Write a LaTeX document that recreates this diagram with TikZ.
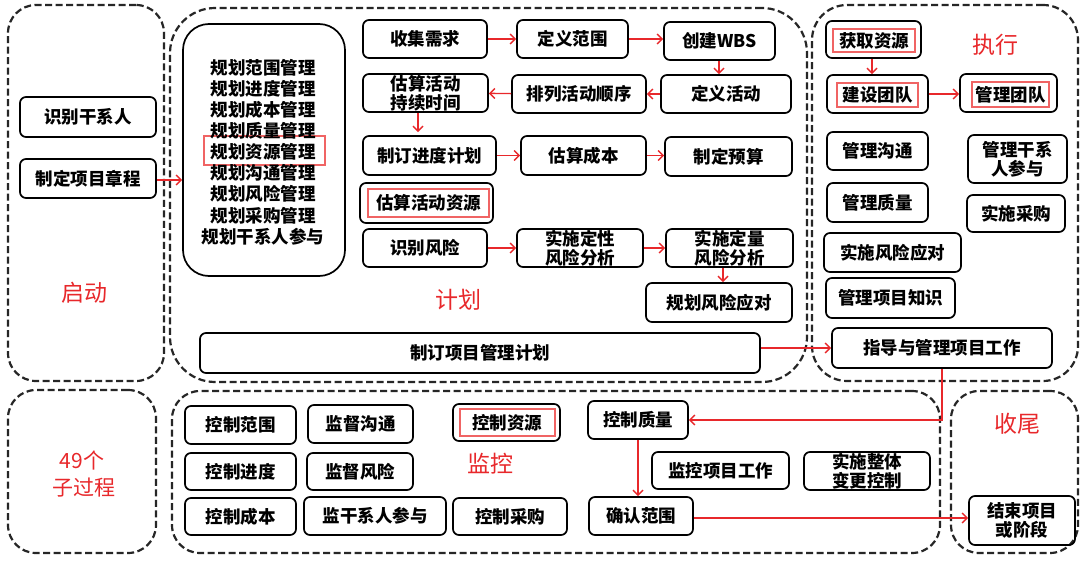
\documentclass[tikz,border=0pt]{standalone}
\usepackage{fontspec}
\newfontfamily\cjk{Noto Sans CJK SC}
\usetikzlibrary{arrows.meta}
\definecolor{hired}{HTML}{E8282B}
\definecolor{hiframe}{HTML}{F06464}

\begin{document}
\begin{tikzpicture}[x=1pt, y=-1pt, >={Straight Barb[length=5pt,width=10pt]}]
		\tikzstyle{region}=[draw=black!85, line width=2.2pt, dash pattern=on 7pt off 3.5pt, inner sep=0pt]
		\tikzstyle{proc}=[draw=black, line width=1.7pt, rounded corners=6pt, inner sep=0pt, align=center, font=\cjk\bfseries\fontsize{17.5}{19}\selectfont]
		\tikzstyle{hibox}=[draw=hiframe, line width=2pt, inner sep=0pt, font=\cjk\bfseries\fontsize{17.5}{19}\selectfont]
		\tikzstyle{phase}=[text=hired, font=\cjk\fontsize{23}{26}\selectfont]
		\tikzstyle{connect}=[->, draw=hired, line width=1.4pt]
		\useasboundingbox[fill=white] (0,0) rectangle (1083,561);
		% phase frames
		\node[region, rounded corners=28pt, minimum width=156, minimum height=376] (qidong) at (86,193) {};
		\node[region, rounded corners=45pt, minimum width=637, minimum height=374] (jihua) at (488.5,195) {};
		\node[region, rounded corners=35pt, minimum width=266, minimum height=376] (zhixing) at (945,193) {};
		\node[region, rounded corners=28pt, minimum width=148, minimum height=163] (guocheng) at (82,471.5) {};
		\node[region, rounded corners=28pt, minimum width=768, minimum height=162] (jiankong) at (556,472) {};
		\node[region, rounded corners=28pt, minimum width=127, minimum height=162] (shouwei) at (1014.5,472) {};
		% initiating
		\node[proc, minimum width=136, minimum height=40] (sbgxr) at (88,117) {识别干系人};
		\node[proc, minimum width=136, minimum height=39] (zdzc) at (88,178.5) {制定项目章程};
		\node[phase] (qdlabel) at (84,293) {启动};
		% planning
		\node[proc, rounded corners=26pt, minimum width=162, minimum height=252] (gh) at (264,150) {};
		\node[hibox, minimum width=121, minimum height=29] (ghzy) at (264.5,150.5) {};
		\node[align=center, font=\cjk\bfseries\fontsize{17.5}{21.1}\selectfont] (ghlist) at (263,152) {规划范围管理\\规划进度管理\\规划成本管理\\规划质量管理\\规划资源管理\\规划沟通管理\\规划风险管理\\规划采购管理\\规划干系人参与};
		\node[proc, minimum width=124, minimum height=38] (sjxq) at (425,39) {收集需求};
		\node[proc, minimum width=111, minimum height=38] (dyfw) at (572.5,39) {定义范围};
		\node[proc, minimum width=111, minimum height=38] (wbs) at (719.5,41) {创建WBS};
		\node[proc, minimum width=125, minimum height=38] (gshd) at (425.5,93) {估算活动\\持续时间};
		\node[proc, minimum width=134, minimum height=38] (plhd) at (579,94) {排列活动顺序};
		\node[proc, minimum width=130, minimum height=38] (dyhd) at (726,94) {定义活动};
		\node[proc, minimum width=133, minimum height=39] (zdjd) at (429.5,155.5) {制订进度计划};
		\node[proc, minimum width=125, minimum height=39] (gscb) at (583.5,155.5) {估算成本};
		\node[proc, minimum width=127, minimum height=39] (zdys) at (728.5,156.5) {制定预算};
		\node[proc, minimum width=133, minimum height=40] (gszy) at (426.5,203) {};
		\node[hibox, minimum width=121, minimum height=28] (gszymark) at (428.5,203) {估算活动资源};
		\node[proc, minimum width=124, minimum height=38] (sbfx) at (425,248) {识别风险};
		\node[proc, minimum width=126, minimum height=38] (dxfx) at (580,248) {实施定性\\风险分析};
		\node[proc, minimum width=127, minimum height=38] (dlfx) at (729.5,248) {实施定量\\风险分析};
		\node[proc, minimum width=146, minimum height=39] (ghfx) at (719,302.5) {规划风险应对};
		\node[phase] (jhlabel) at (458,300) {计划};
		\node[proc, minimum width=560, minimum height=40] (zdjh) at (480,353) {制订项目管理计划};
		% executing
		\node[proc, minimum width=95, minimum height=37] (hqzy) at (873.5,39.5) {};
		\node[hibox, minimum width=82, minimum height=23] (hqzymark) at (874,40.5) {获取资源};
		\node[phase] (zxlabel) at (995,45) {执行};
		\node[proc, minimum width=101, minimum height=38] (jstd) at (877.5,94) {};
		\node[hibox, minimum width=81, minimum height=24] (jstdmark) at (877.5,95) {建设团队};
		\node[proc, minimum width=97, minimum height=38] (gltd) at (1008.5,93) {};
		\node[hibox, minimum width=77, minimum height=25] (gltdmark) at (1010.5,94.5) {管理团队};
		\node[proc, minimum width=101, minimum height=38] (glgt) at (877.5,151) {管理沟通};
		\node[proc, minimum width=99, minimum height=48] (glgxr) at (1017.5,159) {管理干系\\人参与};
		\node[proc, minimum width=101, minimum height=39] (glzl) at (877.5,202.5) {管理质量};
		\node[proc, minimum width=98, minimum height=37] (sscg) at (1016,213.5) {实施采购};
		\node[proc, minimum width=137, minimum height=39] (ssfx) at (892.5,252.5) {实施风险应对};
		\node[proc, minimum width=129, minimum height=40] (glzs) at (890.5,298) {管理项目知识};
		\node[proc, minimum width=220, minimum height=40] (zdgl) at (942,348) {指导与管理项目工作};
		% sub-process count
		\node[phase, font=\cjk\fontsize{21}{24}\selectfont] (count) at (82,460) {49个};
		\node[phase, font=\cjk\fontsize{21}{24}\selectfont] (zgc) at (84,488) {子过程};
		% monitoring
		\node[proc, minimum width=111, minimum height=38] (kzfw) at (240.5,425) {控制范围};
		\node[proc, minimum width=105, minimum height=38] (jdgt) at (360.5,424) {监督沟通};
		\node[proc, minimum width=107, minimum height=37] (kzzy) at (506.5,422.5) {};
		\node[hibox, minimum width=95, minimum height=27] (kzzymark) at (507,422.5) {控制资源};
		\node[proc, minimum width=100, minimum height=38] (kzzl) at (638,420) {控制质量};
		\node[proc, minimum width=111, minimum height=37] (kzjd) at (240.5,471.5) {控制进度};
		\node[proc, minimum width=106, minimum height=37] (jdfx) at (360,471.5) {监督风险};
		\node[phase] (jklabel) at (490,464) {监控};
		\node[proc, minimum width=137, minimum height=37] (jkgz) at (720.5,470.5) {监控项目工作};
		\node[proc, minimum width=126, minimum height=38] (bgkz) at (867,471) {实施整体\\变更控制};
		\node[proc, minimum width=111, minimum height=37] (kzcb) at (240.5,516.5) {控制成本};
		\node[proc, minimum width=142, minimum height=38] (jgxr) at (375,516) {监干系人参与};
		\node[proc, minimum width=114, minimum height=37] (kzcg) at (510,516.5) {控制采购};
		\node[proc, minimum width=104, minimum height=38] (qrfw) at (641,516) {确认范围};
		% closing
		\node[phase] (swlabel) at (1017,424) {收尾};
		\node[proc, minimum width=106, minimum height=49] (jsxm) at (1022,520.5) {结束项目\\或阶段};
		\path
		([yshift=-1.5pt]zdzc.east) edge [connect] ([yshift=-1.5pt]zdzc.east -| gh.west)
		(sjxq) edge [connect] (dyfw)
		(dyfw.east) edge [connect] (dyfw.east -| wbs.west)
		([xshift=-0.5pt]wbs.south) edge [connect] ([xshift=-0.5pt]wbs.south |- dyhd.north)
		(dyhd) edge [connect] (plhd)
		(plhd) edge [connect] (gshd)
		([xshift=-7.5pt]gshd.south) edge [connect] ([xshift=-7.5pt,yshift=3pt]gshd.south |- zdjd.north)
		(zdjd) edge [connect] (gscb)
		(gscb.east) edge [connect] (gscb.east -| zdys.west)
		(sbfx) edge [connect] (dxfx)
		(dxfx) edge [connect] (dlfx)
		([xshift=-6.5pt]dlfx.south) edge [connect] ([xshift=-6.5pt]dlfx.south |- ghfx.north)
		([yshift=5pt]zdjh.east) edge [connect] ([yshift=5pt]zdjh.east -| zdgl.west)
		([xshift=-1.5pt]hqzy.south) edge [connect] ([xshift=-1.5pt]hqzy.south |- jstd.north)
		(jstd) edge [connect] (jstd -| gltd.west)
		(kzzl.south) edge [connect] (kzzl.south |- qrfw.north)
		([yshift=-2pt]qrfw.east) edge [connect] ([yshift=-2pt]qrfw.east -| jsxm.west)
		;
		\draw[connect] (zdgl.south) |- (kzzl.east);
	\end{tikzpicture}
\end{document}
